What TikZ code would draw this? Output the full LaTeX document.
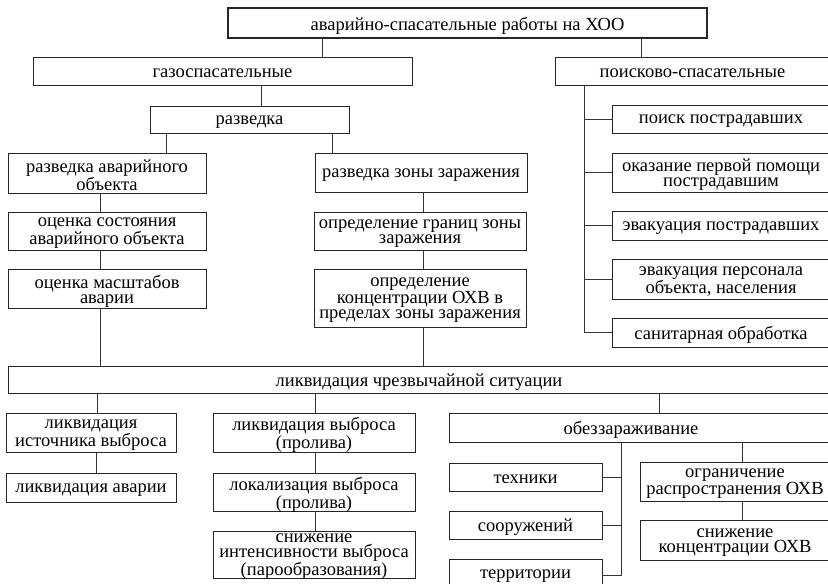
\documentclass[tikz,border=0pt]{standalone}
\usepackage{fontspec}
\setmainfont{Liberation Serif}
\begin{document}
\begin{tikzpicture}[x=1pt,y=-1pt,
  bx/.style={draw=black!85,line width=0.8pt,inner sep=0pt},
  tx/.style={inner sep=0pt,align=center,font=\fontsize{18.5}{15}\selectfont},
  ln/.style={draw=black!80,line width=0.8pt}]
\useasboundingbox (0,0) rectangle (828,584);
\clip (0,0) rectangle (828,584);
\def\BXX#1#2#3#4#5#6#7{%
  \node[bx,#1,minimum width={#5-#3},minimum height={#6-#4}] (#2) at ({(#3+#5)/2},{(#4+#6)/2}) {};
  \node[tx] (#2-t) at ([yshift=-2.5pt]#2.center) {#7};}
\BXX{line width=2pt}{top}{228}{8}{707}{38}{аварийно-спасательные работы на ХОО}
\BXX{}{gaz}{33}{57}{412}{85}{газоспасательные}
\BXX{}{poisk}{555}{57}{830}{85}{поисково-спасательные}
\BXX{}{razv}{150}{106}{349}{133}{разведка}
\BXX{}{ra}{8}{153}{206}{193}{разведка аварийного\\объекта}
\BXX{}{rz}{315}{153}{527}{192}{разведка зоны заражения}
\BXX{}{os}{8}{212}{206}{250}{оценка состояния\\аварийного объекта}
\BXX{}{om}{8}{269}{206}{308}{оценка масштабов\\аварии}
\BXX{}{og}{314}{212}{526}{250}{определение границ зоны\\заражения}
\BXX{}{ok}{314}{269}{526}{327}{определение\\концентрации ОХВ в\\пределах зоны заражения}
\BXX{}{pa}{612}{105}{830}{133}{поиск пострадавших}
\BXX{}{pb}{612}{153}{830}{192}{оказание первой помощи\\пострадавшим}
\BXX{}{pc}{612}{211}{830}{240}{эвакуация пострадавших}
\BXX{}{pd}{612}{259}{830}{299}{эвакуация персонала\\объекта, населения}
\BXX{}{pe}{612}{318}{830}{347}{санитарная обработка}
\BXX{}{lchs}{8}{366}{830}{393}{ликвидация чрезвычайной ситуации}
\BXX{}{li}{6}{413}{176}{452}{ликвидация\\источника выброса}
\BXX{}{la}{6}{473}{176}{502}{ликвидация аварии}
\BXX{}{lv}{213}{413}{415}{452}{ликвидация выброса\\(пролива)}
\BXX{}{lok}{213}{473}{415}{511}{локализация выброса\\(пролива)}
\BXX{}{sn}{213}{531}{415}{578}{снижение\\интенсивности выброса\\(парообразования)}
\BXX{}{ob}{449}{413}{830}{442}{обеззараживание\hspace*{17pt}}
\BXX{}{teh}{449}{463}{602}{491}{техники}
\BXX{}{soor}{449}{511}{602}{539}{сооружений}
\BXX{}{terr}{449}{559}{602}{589}{территории}
\BXX{}{ogr}{640}{462}{830}{501}{ограничение\\распространения ОХВ}
\BXX{}{snk}{640}{520}{830}{560}{снижение\\концентрации ОХВ}
% guide coordinates
\coordinate (xa) at (322,0);
\coordinate (xb) at (641,0);
\coordinate (xc) at (261,0);
\coordinate (xd) at (166,0);
\coordinate (xe) at (332,0);
\coordinate (xf) at (100,0);
\coordinate (xg) at (423,0);
\coordinate (xh) at (584,0);
\coordinate (xi) at (97,0);
\coordinate (xj) at (315,0);
\coordinate (xk) at (659,0);
\coordinate (xl) at (621,0);
\coordinate (xm) at (742,0);
\coordinate (xn) at (96,0);
% connectors
\draw[ln] (top.south -| xa) -- (gaz.north -| xa);
\draw[ln] (top.south -| xb) -- (poisk.north -| xb);
\draw[ln] (gaz.south -| xc) -- (razv.north -| xc);
\draw[ln] (razv.south -| xd) -- (ra.north -| xd);
\draw[ln] (razv.south -| xe) -- (rz.north -| xe);
\draw[ln] (ra.south -| xf) -- (os.north -| xf);
\draw[ln] (os.south -| xf) -- (om.north -| xf);
\draw[ln] (om.south -| xf) -- (lchs.north -| xf);
\draw[ln] (rz.south -| xg) -- (og.north -| xg);
\draw[ln] (og.south -| xg) -- (ok.north -| xg);
\draw[ln] (ok.south -| xg) -- (lchs.north -| xg);
\draw[ln] (poisk.south -| xh) |- (pe.west);
\draw[ln] (xh |- pa.west) -- (pa.west);
\draw[ln] (xh |- pb.west) -- (pb.west);
\draw[ln] (xh |- pc.west) -- (pc.west);
\draw[ln] (xh |- pd.west) -- (pd.west);
\draw[ln] (lchs.south -| xi) -- (li.north -| xi);
\draw[ln] (li.south -| xn) -- (la.north -| xn);
\draw[ln] (lchs.south -| xj) -- (lv.north -| xj);
\draw[ln] (lv.south -| xj) -- (lok.north -| xj);
\draw[ln] (lok.south -| xj) -- (sn.north -| xj);
\draw[ln] (lchs.south -| xk) -- (ob.north -| xk);
\draw[ln] (ob.south -| xl) |- ([yshift=-1pt]terr.east);
\draw[ln] (xl |- teh.east) -- (teh.east);
\draw[ln] (xl |- soor.east) -- (soor.east);
\draw[ln] (ob.south -| xm) -- (ogr.north -| xm);
\draw[ln] (ogr.south -| xm) -- (snk.north -| xm);
\end{tikzpicture}
\end{document}
